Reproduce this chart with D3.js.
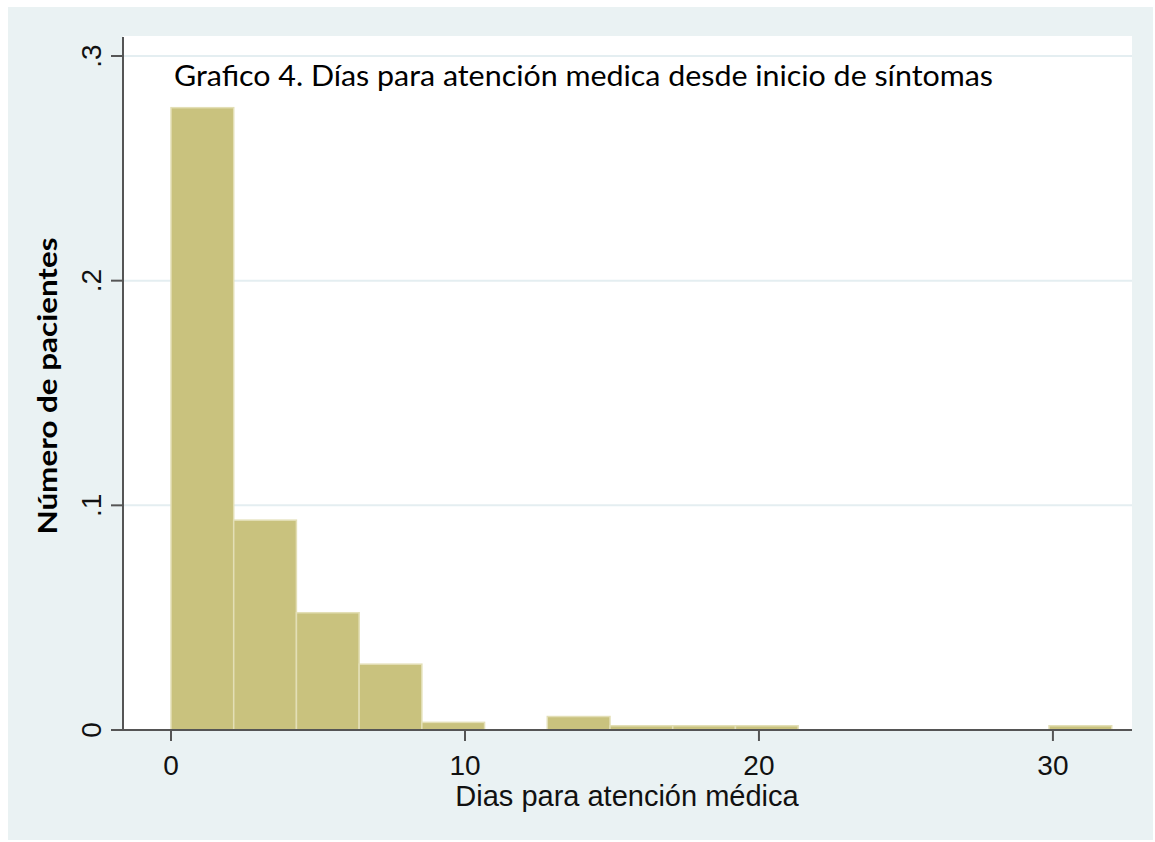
<!DOCTYPE html>
<html>
<head>
<meta charset="utf-8">
<script src="https://cdn.jsdelivr.net/npm/d3@7"></script>
<style>
  body { margin: 0; background: #fff; }
  svg { display: block; }
</style>
</head>
<body>
<svg id="chart" width="1155" height="842"></svg>
<script>
// histogram bins (days), density
const binStarts = [0, 2.133, 4.267, 6.4, 8.533, 10.667, 12.8, 14.933, 17.067, 19.2, 21.333, 23.467, 25.6, 27.733, 29.867];
const binWidth = 2.133;
const density = [0.277, 0.0934, 0.0522, 0.0293, 0.0034, 0, 0.006, 0.0019, 0.0019, 0.0019, 0, 0, 0, 0, 0.0019];
const xTicks = [0, 10, 20, 30];
const yTicks = [0, 0.1, 0.2, 0.3];
const yTickLabels = ["0", ".1", ".2", ".3"];

const title = "Grafico 4. Días para atención medica desde inicio de síntomas";
const xTitle = "Dias para atención médica";
const yTitle = "Número de pacientes";

const svg = d3.select("#chart");
const plot = {left: 123, right: 1132, top: 36, bottom: 730};

// outer graph region
svg.append("rect")
    .attr("x", 8).attr("y", 7)
    .attr("width", 1145).attr("height", 833)
    .attr("fill", "#eaf2f3");

svg.append("rect")
    .attr("x", plot.left).attr("y", plot.top)
    .attr("width", plot.right - plot.left).attr("height", plot.bottom - plot.top)
    .attr("fill", "#ffffff");

const x = d3.scaleLinear().domain([-1.633, 32.69]).range([plot.left, plot.right]);
const y = d3.scaleLinear().domain([0, 0.3]).range([plot.bottom, 56]);

// grid
svg.selectAll(".grid")
    .data(yTicks.slice(1))
    .enter()
    .append("line")
    .attr("class", "grid")
    .attr("x1", plot.left).attr("x2", plot.right)
    .attr("y1", d => y(d)).attr("y2", d => y(d))
    .attr("stroke", "#e4eef1")
    .attr("stroke-width", 2);

// bars
svg.selectAll(".bar")
    .data(binStarts.map((s, i) => ({start: s, value: density[i]})).filter(d => d.value > 0))
    .enter()
    .append("rect")
    .attr("class", "bar")
    .attr("x", d => x(d.start))
    .attr("width", d => x(d.start + binWidth) - x(d.start))
    .attr("y", d => y(d.value))
    .attr("height", d => y(0) - y(d.value))
    .attr("fill", "#c9c27e")
    .attr("stroke", "#e3dfb6")
    .attr("stroke-width", 1.5);

// axes
const axisColor = "#555";
svg.append("line")
    .attr("x1", 111).attr("x2", plot.right)
    .attr("y1", plot.bottom).attr("y2", plot.bottom)
    .attr("stroke", axisColor).attr("stroke-width", 2);
svg.append("line")
    .attr("x1", plot.left).attr("x2", plot.left)
    .attr("y1", 37).attr("y2", plot.bottom)
    .attr("stroke", axisColor).attr("stroke-width", 2);

svg.selectAll(".xtick")
    .data(xTicks)
    .enter()
    .append("line")
    .attr("x1", d => x(d)).attr("x2", d => x(d))
    .attr("y1", plot.bottom).attr("y2", plot.bottom + 11)
    .attr("stroke", axisColor).attr("stroke-width", 2);

svg.selectAll(".xlabel")
    .data(xTicks)
    .enter()
    .append("text")
    .attr("x", d => x(d))
    .attr("y", 775)
    .attr("text-anchor", "middle")
    .attr("font-family", "Liberation Sans, Arial, sans-serif")
    .attr("font-size", 28)
    .attr("fill", "#111")
    .text(d => d);

svg.selectAll(".ytick")
    .data(yTicks)
    .enter()
    .append("line")
    .attr("x1", 111).attr("x2", plot.left)
    .attr("y1", d => y(d)).attr("y2", d => y(d))
    .attr("stroke", axisColor).attr("stroke-width", 2);

svg.selectAll(".ylabel")
    .data(yTicks)
    .enter()
    .append("text")
    .attr("transform", d => `translate(101,${y(d)}) rotate(-90)`)
    .attr("text-anchor", "middle")
    .attr("font-family", "Liberation Sans, Arial, sans-serif")
    .attr("font-size", 28)
    .attr("fill", "#111")
    .text((d, i) => yTickLabels[i]);

// titles
svg.append("text")
    .attr("x", 627).attr("y", 806)
    .attr("text-anchor", "middle")
    .attr("font-family", "Liberation Sans, Arial, sans-serif")
    .attr("font-size", 29)
    .attr("fill", "#111")
    .text(xTitle);

svg.append("text")
    .attr("transform", "translate(57,386) rotate(-90)")
    .attr("text-anchor", "middle")
    .attr("font-family", "Lato, sans-serif")
    .attr("font-weight", "bold")
    .attr("font-size", 26)
    .attr("textLength", 297)
    .attr("lengthAdjust", "spacingAndGlyphs")
    .attr("fill", "#000")
    .text(yTitle);

svg.append("text")
    .attr("x", 174).attr("y", 86)
    .attr("font-family", "Lato, sans-serif")
    .attr("font-size", 28)
    .attr("textLength", 819)
    .attr("lengthAdjust", "spacingAndGlyphs")
    .attr("fill", "#000")
    .text(title);
</script>
</body>
</html>
